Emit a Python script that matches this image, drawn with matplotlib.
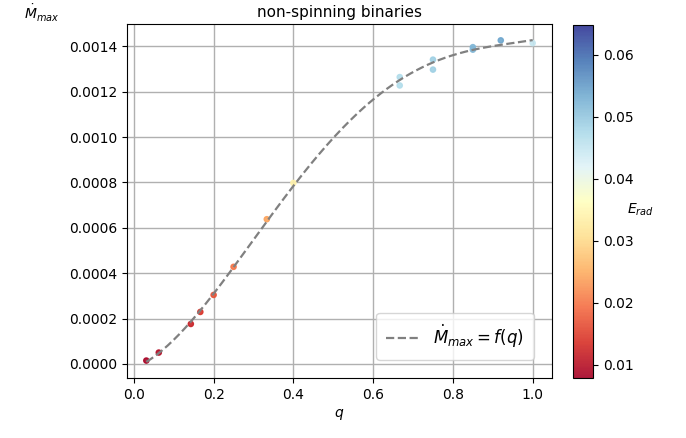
import numpy as np
import matplotlib
matplotlib.use("Agg")
import matplotlib.pyplot as plt

# mass ratio, peak accretion rate and radiated energy for each run
q = [1/32, 1/16, 1/7, 1/6, 1/5, 1/4, 1/3, 0.4,
     2/3, 2/3, 0.75, 0.75, 0.85, 0.85, 0.92, 1.0]
mdot_max = [0.0000145, 0.0000498, 0.000176, 0.000229, 0.000304, 0.000428,
            0.000638, 0.000798, 0.001265, 0.001228, 0.001342, 0.001298,
            0.001397, 0.001386, 0.001427, 0.001415]
e_rad = [0.0085, 0.0095, 0.012, 0.014, 0.017, 0.020, 0.024, 0.034,
         0.047, 0.047, 0.049, 0.049, 0.052, 0.052, 0.054, 0.045]

q = np.array(q)
mdot_max = np.array(mdot_max)

# polynomial fit f(q)
coef = np.polyfit(q, mdot_max, 4)
qq = np.linspace(q.min(), 1.0, 200)

fig = plt.figure(figsize=(6.86, 4.38), dpi=100)
ax = fig.add_axes([127/686, 1-378/438, 425/686, 354/438])
cax = fig.add_axes([573/686, 1-378/438, 20/686, 353/438])

ax.plot(qq, np.polyval(coef, qq), '--', color='gray', lw=1.6,
        label=r'$\dot{M}_{max} = f(q)$', zorder=3)
sc = ax.scatter(q, mdot_max, c=e_rad, cmap='RdYlBu', s=14, vmin=0.0079, vmax=0.0648,
                alpha=0.9, zorder=2)
ax.grid(True, color='#b0b0b0', lw=1)
ax.set_axisbelow(True)
ax.set_title('non-spinning binaries', fontsize=11, pad=5)
ax.set_xlabel('$q$')
ax.set_ylabel(r'$\dot{M}_{max}$', rotation=0)
ax.yaxis.set_label_coords(-0.2, 1.0)
ax.legend(loc='lower right', fontsize=12, borderpad=0.6, borderaxespad=1.1)

cb = fig.colorbar(sc, cax=cax)
cb.set_ticks([0.01, 0.02, 0.03, 0.04, 0.05, 0.06])
cb.set_label('$E_{rad}$', rotation=0, labelpad=5)

fig.savefig('out.png', dpi=100)
